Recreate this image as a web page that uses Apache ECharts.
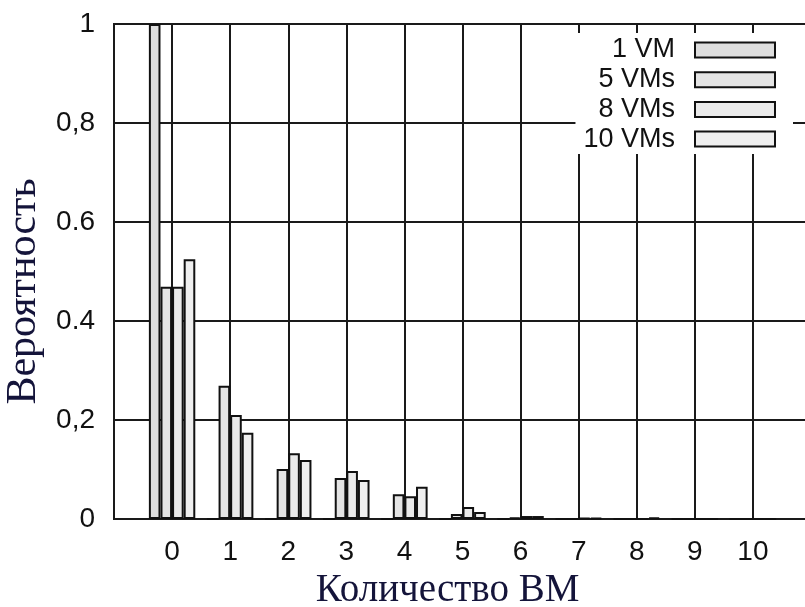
<!DOCTYPE html>
<html>
<head>
<meta charset="utf-8">
<script src="https://cdn.jsdelivr.net/npm/echarts@6/dist/echarts.min.js"></script>
<style>
html,body{margin:0;padding:0;background:#fff;}
#chart{width:805px;height:607px;}
</style>
</head>
<body>
<div id="chart"></div>
<script>
// Data
var categories = [0, 1, 2, 3, 4, 5, 6, 7, 8, 9, 10];
var seriesNames = ['1 VM', '5 VMs', '8 VMs', '10 VMs'];
var vm1  = [1.000, 0, 0, 0, 0, 0, 0, 0, 0, 0, 0];
var vm5  = [0.469, 0.269, 0.101, 0.083, 0.050, 0.010, 0.003, 0, 0, 0, 0];
var vm8  = [0.469, 0.210, 0.133, 0.097, 0.046, 0.024, 0.006, 0.002, 0, 0, 0];
var vm10 = [0.525, 0.174, 0.119, 0.079, 0.065, 0.014, 0.006, 0.002, 0.003, 0, 0];
var yTickValues = [0, 0.2, 0.4, 0.6, 0.8, 1];
var yTickLabels = ['0', '0,2', '0.4', '0.6', '0,8', '1'];
var xTickLabels = ['0', '1', '2', '3', '4', '5', '6', '7', '8', '9', '10'];
var xTitle = 'Количество ВМ';
var yTitle = 'Вероятность';

var seriesValues = [vm1, vm5, vm8, vm10];
var fills = ['#dedede', '#e4e4e4', '#eaeaea', '#efefef'];
var lineColor = '#1a1a1a';
var sansFont = '"Liberation Sans", Arial, Helvetica, sans-serif';
var serifFont = '"Liberation Serif", "Times New Roman", serif';

var chart = echarts.init(document.getElementById('chart'), null, {renderer: 'canvas'});

function pairs(vals) {
  return categories.map(function (c, i) { return [c, vals[i]]; });
}

var series = seriesNames.map(function (name, k) {
  return {
    name: name,
    type: 'bar',
    xAxisIndex: 0,
    data: pairs(seriesValues[k]),
    barWidth: 11.6,
    barGap: '0%',
    itemStyle: { color: fills[k], borderColor: '#111', borderWidth: 2 },
    emphasis: { disabled: true },
    animation: false
  };
});

var option = {
  animation: false,
  backgroundColor: '#fff',
  grid: {
    left: 114, top: 24, right: -6, bottom: 88,
    containLabel: false,
    outerBoundsMode: 'none',
    show: true, borderColor: lineColor, borderWidth: 2, backgroundColor: 'transparent'
  },
  legend: {
    orient: 'vertical',
    align: 'right',
    right: 12,
    top: 33,
    padding: [3, 17, 1, 8],
    backgroundColor: '#fff',
    icon: 'rect',
    itemWidth: 80,
    itemHeight: 15,
    itemGap: 1.7,
    selectedMode: false,
    data: seriesNames,
    textStyle: {
      fontFamily: sansFont, fontSize: 27, color: '#111', lineHeight: 28,
      padding: [0, 15, 0, 0]
    },
    z: 10
  },
  xAxis: [
    {
      type: 'value',
      position: 'bottom',
      min: -1, max: 11, interval: 1,
      axisLine: { show: true, lineStyle: { color: lineColor, width: 2 } },
      axisTick: { show: true, inside: true, length: 7, lineStyle: { color: lineColor, width: 1.5 } },
      splitLine: { show: true, lineStyle: { color: lineColor, width: 2 } },
      axisLabel: {
        margin: 19,
        fontFamily: sansFont, fontSize: 28, color: '#111',
        formatter: function (v) {
          var i = categories.indexOf(Math.round(v));
          return (i >= 0 && Math.abs(v - categories[i]) < 1e-6) ? xTickLabels[i] : '';
        }
      },
      name: xTitle,
      nameLocation: 'middle',
      nameGap: 52,
      nameTextStyle: {
        fontFamily: serifFont, fontSize: 39, color: '#14143a',
        padding: [0, 30, 0, 0]
      }
    },
    {
      type: 'value',
      position: 'top',
      min: -1, max: 11, interval: 1,
      axisLine: { show: true, lineStyle: { color: lineColor, width: 2 } },
      axisTick: { show: true, inside: true, length: 8, lineStyle: { color: lineColor, width: 1.5 } },
      splitLine: { show: false },
      axisLabel: { show: false }
    }
  ],
  yAxis: {
    type: 'value',
    min: 0, max: 1, interval: 0.2,
    axisLine: { show: true, lineStyle: { color: lineColor, width: 2 } },
    axisTick: { show: true, inside: true, length: 7, lineStyle: { color: lineColor, width: 1.5 } },
    splitLine: { show: true, lineStyle: { color: lineColor, width: 2 } },
    axisLabel: {
      margin: 19,
      fontFamily: sansFont, fontSize: 28, color: '#111',
      formatter: function (v) {
        for (var i = 0; i < yTickValues.length; i++) {
          if (Math.abs(v - yTickValues[i]) < 1e-6) return yTickLabels[i];
        }
        return '';
      }
    },
    name: yTitle,
    nameLocation: 'middle',
    nameGap: 66,
    nameRotate: 90,
    nameTextStyle: {
      fontFamily: serifFont, fontSize: 42, color: '#14143a',
      padding: [0, 40, 0, 0]
    }
  },
  series: series
};

chart.setOption(option);
</script>
</body>
</html>
